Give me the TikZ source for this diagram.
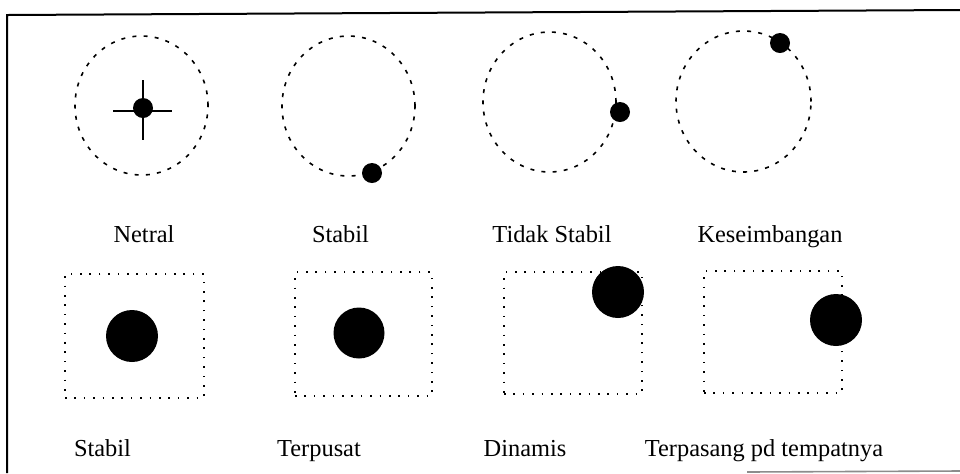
\documentclass[tikz,border=0pt]{standalone}
\usepackage{fontspec}
\setmainfont{Liberation Serif}
\usetikzlibrary{shapes.geometric}
\begin{document}
\begin{tikzpicture}[x=0.5pt,y=-0.5pt,
  orbit/.style={ellipse,draw,line width=0.8pt,dash pattern=on 2pt off 3.6pt,inner sep=0pt},
  boxd/.style={rectangle,draw,line width=0.8pt,dash pattern=on 0.8pt off 3.9pt,inner sep=0pt},
  smalldot/.style={circle,fill=black,inner sep=0pt,minimum size=10pt},
  bigdot/.style={circle,fill=black,inner sep=0pt,minimum size=26pt},
  lbl/.style={anchor=base,inner sep=0pt,font=\fontsize{12.2}{14}\selectfont}]
\useasboundingbox (0,0) rectangle (960,473);
% frame
\coordinate (f1) at (7,15);
\coordinate (f2) at (960,10);
\coordinate (f3) at (7,473);
\coordinate (f4) at (747,472);
\coordinate (f5) at (960,471);
\draw[line width=1pt] (f2) -- (f1) -- (f3);
\draw[line width=0.8pt,black!45] (f4) -- (f5);
% top row
\node[orbit,minimum width=66.5pt,minimum height=69.5pt] (c1) at (141.5,105.5) {};
\node[orbit,minimum width=66.5pt,minimum height=70pt] (c2) at (348.5,106) {};
\node[orbit,minimum width=66.5pt,minimum height=70pt] (c3) at (549.5,102) {};
\node[orbit,minimum width=67.5pt,minimum height=70.5pt] (c4) at (743.5,101.5) {};
\coordinate (v1) at (143,80);
\coordinate (v2) at (143,140);
\coordinate (h1) at (113,111);
\coordinate (h2) at (172,111);
\draw[line width=1.1pt] (v1) -- (v2);
\draw[line width=1.1pt] (h1) -- (h2);
\node[smalldot] (d1) at (143,108) {};
\node[smalldot] (d2) at (372,173) {};
\node[smalldot] (d3) at (620,112) {};
\node[smalldot] (d4) at (780,43) {};
\node[lbl] (t1) at (144,242.7) {Netral};
\node[lbl] (t2) at (340.5,242.7) {Stabil};
\node[lbl] (t3) at (552,242.7) {Tidak Stabil};
\node[lbl] (t4) at (770,242.7) {Keseimbangan};
% bottom row
\node[boxd,minimum width=69.5pt,minimum height=62pt] (s1) at (134.5,336) {};
\node[boxd,minimum width=68.5pt,minimum height=62pt] (s2) at (363.5,334) {};
\node[boxd,minimum width=69pt,minimum height=61pt] (s3) at (573,333) {};
\node[boxd,minimum width=69pt,minimum height=61pt] (s4) at (773,332) {};
\node[bigdot] (b1) at (132,336) {};
\node[bigdot,minimum size=25.5pt] (b2) at (359,333) {};
\node[bigdot] (b3) at (618,292) {};
\node[bigdot] (b4) at (836,320) {};
\node[lbl] (u1) at (102.5,456.7) {Stabil};
\node[lbl] (u2) at (319,456.7) {Terpusat};
\node[lbl] (u3) at (525,456.7) {Dinamis};
\node[lbl] (u4) at (764,456.7) {Terpasang pd tempatnya};
\end{tikzpicture}
\end{document}
